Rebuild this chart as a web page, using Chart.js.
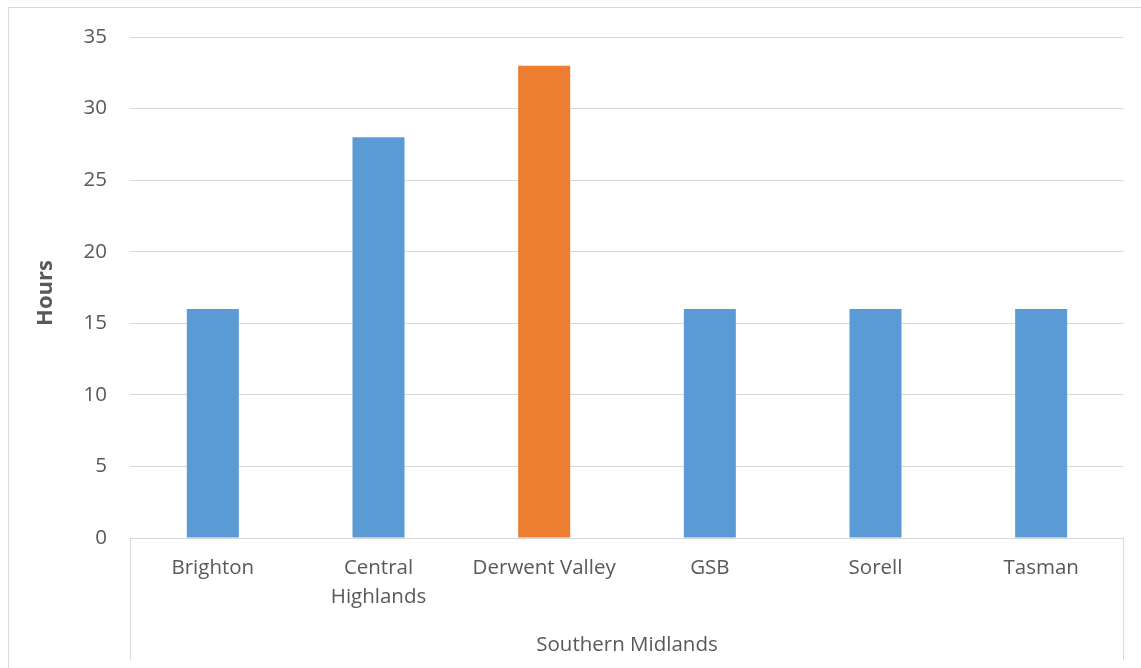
<!DOCTYPE html>
<html>
<head>
<meta charset="utf-8">
<script src="https://cdn.jsdelivr.net/npm/chart.js@4/dist/chart.umd.min.js"></script>
<style>
  html, body { margin: 0; padding: 0; background: #fff; }
  #wrap { width: 1141px; height: 668px; }
</style>
</head>
<body>
<div id="wrap"><canvas id="chart" width="1141" height="668"></canvas></div>
<script>
// chart data
const categories = ['Brighton', ['Central', 'Highlands'], 'Derwent Valley', 'GSB', 'Sorell', 'Tasman'];
const hours = [16, 28, 33, 16, 16, 16];
const highlightIndex = 2; // Derwent Valley
const groupLabel = 'Southern Midlands';
const yTicks = [0, 5, 10, 15, 20, 25, 30, 35];

const FONT = '"Open Sans", "Noto Sans", sans-serif';
const TEXT = '#595959';
const LINE = '#d9d9d9';

// draws the outer frame, the y title and the category group box
const decorations = {
    id: 'decorations',
    afterDraw(chart) {
        const ctx = chart.ctx;
        const area = chart.chartArea;
        ctx.save();
        ctx.strokeStyle = LINE;
        ctx.lineWidth = 1;
        // outer frame
        ctx.strokeRect(8.5, 7.5, 1140, 700);
        // group box sides
        ctx.beginPath();
        ctx.moveTo(Math.round(area.left) + 0.5, area.bottom);
        ctx.lineTo(Math.round(area.left) + 0.5, 660);
        ctx.moveTo(Math.round(area.right) - 0.5, area.bottom);
        ctx.lineTo(Math.round(area.right) - 0.5, 660);
        ctx.stroke();

        ctx.fillStyle = TEXT;
        ctx.textAlign = 'center';
        ctx.textBaseline = 'middle';
        ctx.font = '20.5px ' + FONT;
        ctx.fillText(groupLabel, (area.left + area.right) / 2, 645);

        // y axis title
        ctx.translate(46, 293);
        ctx.rotate(-Math.PI / 2);
        ctx.font = 'bold 22px ' + FONT;
        ctx.fillText('Hours', 0, 0);
        ctx.restore();
    }
};

const chart = new Chart(document.getElementById('chart'), {
    type: 'bar',
    data: {
        labels: categories,
        datasets: [{
            label: 'Hours',
            data: hours,
            backgroundColor: (c) => c.dataIndex === highlightIndex ? '#ed7d31' : '#5b9bd5',
            borderWidth: 0,
            barPercentage: 0.314,
            categoryPercentage: 1
        }]
    },
    options: {
        responsive: false,
        animation: false,
        layout: { padding: { left: 0, top: 37, right: 17, bottom: 0 } },
        plugins: {
            legend: { display: false },
            tooltip: { enabled: false }
        },
        scales: {
            x: {
                grid: { display: false, drawTicks: false },
                border: { display: false },
                ticks: {
                    color: TEXT,
                    font: { family: FONT, size: 20.5, lineHeight: 1.45 },
                    padding: 15,
                    maxRotation: 0
                },
                afterFit(scale) { scale.height = 130; }
            },
            y: {
                min: 0,
                max: 35,
                afterBuildTicks(scale) { scale.ticks = yTicks.map(v => ({ value: v })); },
                grid: { color: LINE, lineWidth: 1, drawTicks: false },
                border: { display: false },
                ticks: {
                    color: TEXT,
                    font: { family: FONT, size: 20.5 },
                    padding: 23
                },
                afterFit(scale) { scale.width = 130; }
            }
        }
    },
    plugins: [decorations]
});
</script>
</body>
</html>
